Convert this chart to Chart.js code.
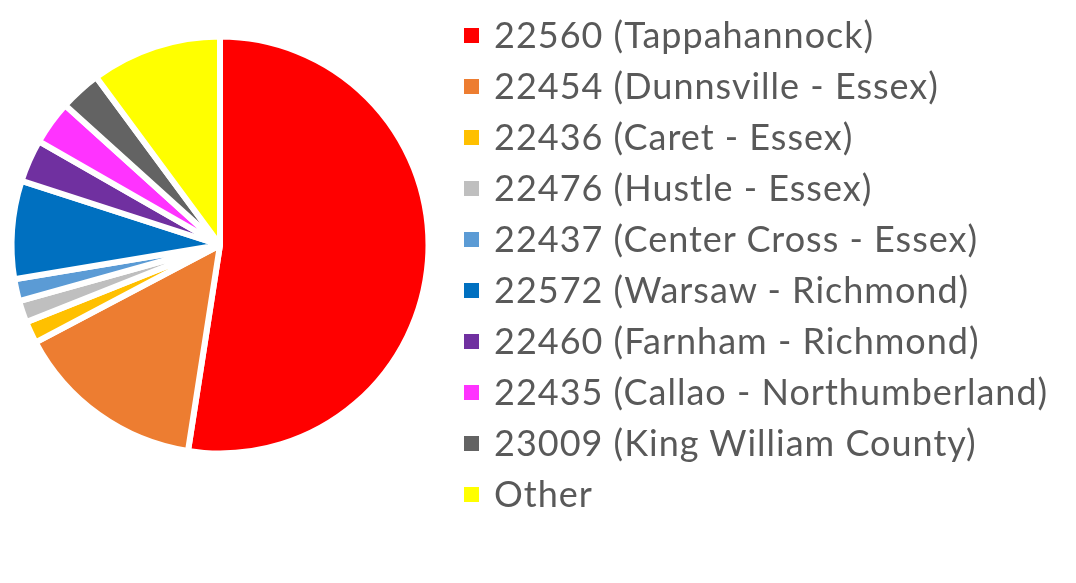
<!DOCTYPE html>
<html>
<head>
<meta charset="utf-8">
<script src="https://cdn.jsdelivr.net/npm/chart.js@4/dist/chart.umd.min.js"></script>
<style>
    html, body { margin: 0; padding: 0; background: #fff; }
    #wrap { position: relative; width: 1076px; height: 583px; }
    #pie { position: absolute; left: 0; top: 0; }
    #legenda { position: absolute; left: 464px; top: 8px; font-family: Lato, sans-serif; font-size: 36px; letter-spacing: 1px; color: #595959; }
    .item { display: flex; align-items: center; height: 51.1px; white-space: nowrap; }
    .caixa { display: inline-block; width: 15px; height: 15px; margin-right: 15px; margin-top: 3px; }
</style>
</head>
<body>
<div id="wrap">
    <canvas id="pie" width="1076" height="583"></canvas>
    <div id="legenda"></div>
</div>
<script>
const rotulos = [
    '22560 (Tappahannock)',
    '22454 (Dunnsville - Essex)',
    '22436 (Caret - Essex)',
    '22476 (Hustle - Essex)',
    '22437 (Center Cross - Essex)',
    '22572 (Warsaw - Richmond)',
    '22460 (Farnham - Richmond)',
    '22435 (Callao - Northumberland)',
    '23009 (King William County)',
    'Other'
];
const valores = [52.4, 14.8, 1.7, 1.7, 1.7, 7.6, 3.3, 3.4, 3.2, 10.1];
const cores = ['#ff0000', '#ed7d31', '#ffc000', '#bfbfbf', '#5b9bd5', '#0070c0', '#7030a0', '#ff33ff', '#636363', '#ffff00'];

function montarLegenda() {
    const box = document.getElementById('legenda');
    rotulos.forEach((txt, i) => {
        const linha = document.createElement('div');
        linha.className = 'item';
        const q = document.createElement('span');
        q.className = 'caixa';
        q.style.background = cores[i];
        linha.appendChild(q);
        linha.appendChild(document.createTextNode(txt));
        box.appendChild(linha);
    });
}

new Chart(document.getElementById('pie'), {
    type: 'pie',
    data: {
        labels: rotulos,
        datasets: [{
            data: valores,
            backgroundColor: cores,
            borderColor: '#ffffff',
            borderWidth: 6,
            radius: 208.5
        }]
    },
    options: {
        responsive: false,
        animation: false,
        events: [],
        layout: { padding: { left: 0, right: 636, top: 30, bottom: 123 } },
        plugins: {
            legend: { display: false },
            tooltip: { enabled: false }
        }
    }
});

montarLegenda();
</script>
</body>
</html>
